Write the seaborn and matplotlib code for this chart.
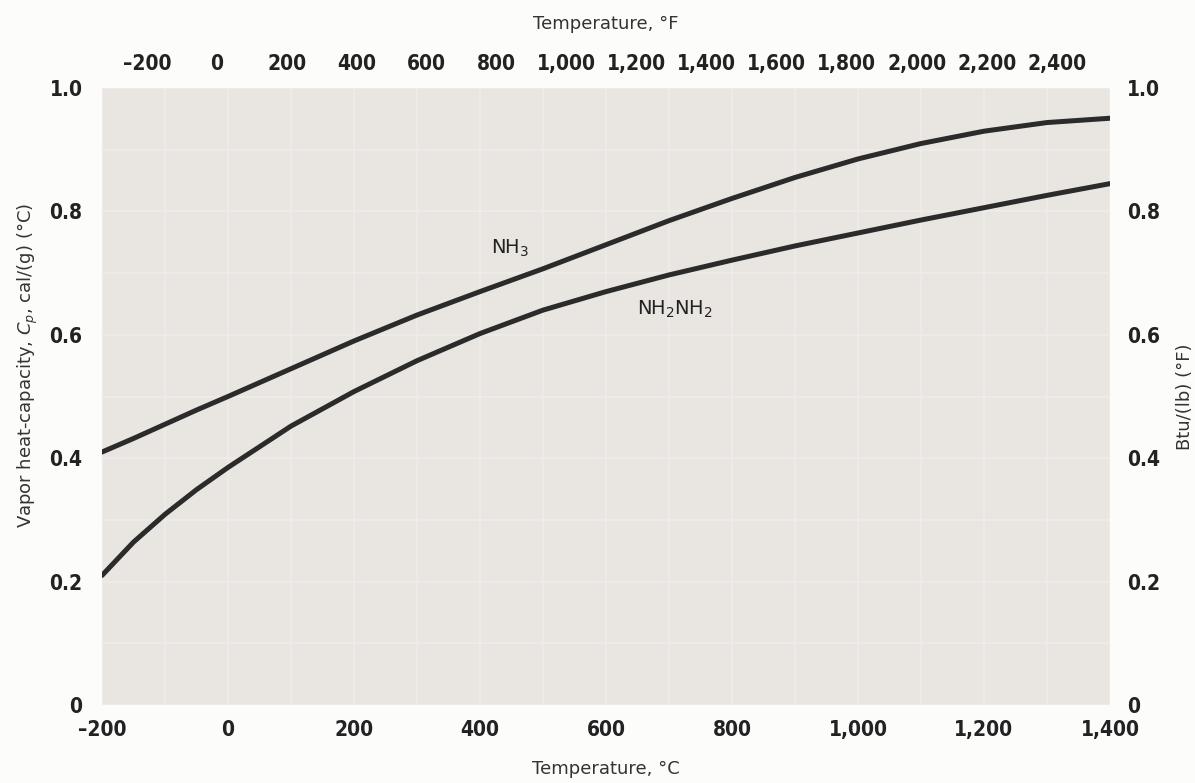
import numpy as np
import pandas as pd
import seaborn as sns
import matplotlib
matplotlib.use("Agg")
import matplotlib.pyplot as plt
from matplotlib.ticker import FuncFormatter

# dados
temp_c = [-200, -150, -100, -50, 0, 100, 200, 300, 400, 500, 600, 700, 800, 900, 1000, 1100, 1200, 1300, 1400]
cp_nh3 = [0.41, 0.432, 0.455, 0.478, 0.50, 0.545, 0.59, 0.632, 0.67, 0.707, 0.746, 0.785, 0.821, 0.855, 0.885, 0.91, 0.93, 0.944, 0.951]
cp_n2h4 = [0.21, 0.264, 0.309, 0.349, 0.385, 0.452, 0.508, 0.558, 0.602, 0.64, 0.67, 0.697, 0.721, 0.744, 0.765, 0.786, 0.806, 0.826, 0.845]

ticks_c = [-200, 0, 200, 400, 600, 800, 1000, 1200, 1400]
ticks_f = list(range(-200, 2401, 200))
ticks_y = [0, 0.2, 0.4, 0.6, 0.8, 1.0]

df = pd.DataFrame({'temp': temp_c * 2,
                   'cp': cp_nh3 + cp_n2h4,
                   'gas': ['NH3'] * len(temp_c) + ['NH2NH2'] * len(temp_c)})

sns.set_style('white', {'axes.facecolor': '#e9e6e2', 'figure.facecolor': '#fcfcfb'})
plt.rcParams['font.family'] = ['DejaVu Sans']

fig = plt.figure(figsize=(11.95, 7.83), dpi=100)
ax = fig.add_axes([102 / 1195, 1 - 705 / 783, (1110 - 102) / 1195, (705 - 88) / 783])

plot = sns.lineplot(data=df, x='temp', y='cp', hue='gas', palette=['#2b2b2b', '#2b2b2b'],
                    linewidth=3.6, legend=False, ax=ax)

ax.set_xlim(-200, 1400)
ax.set_ylim(0, 1.0)
for s in ax.spines.values():
    s.set_visible(False)

# grade clara do papel
ax.set_xticks(range(-200, 1401, 100), minor=True)
ax.set_yticks(np.arange(0, 1.01, 0.1), minor=True)
ax.grid(True, which='both', color='#efece9', linewidth=1.2)
ax.tick_params(which='minor', length=0)

fmt = FuncFormatter(lambda v, p: f'{v:,.0f}'.replace('-', '\u2013'))
yfmt = FuncFormatter(lambda v, p: '0' if v == 0 else f'{v:.1f}')


def estilo(labels):
    for t in labels:
        t.set_fontstretch('condensed')
        t.set_weight('bold')


ax.set_xticks(ticks_c)
ax.xaxis.set_major_formatter(fmt)
ax.set_yticks(ticks_y)
ax.yaxis.set_major_formatter(yfmt)
ax.tick_params(axis='x', length=0, pad=11, labelsize=15, labelcolor='#222222')
ax.tick_params(axis='y', length=0, pad=14, labelsize=15, labelcolor='#222222')
estilo(ax.get_xticklabels() + ax.get_yticklabels())

ax.set_xlabel('Temperature, °C', fontsize=13, color='#333333', labelpad=14)
ax.set_ylabel('Vapor heat-capacity, $C_p$, cal/(g) (°C)', fontsize=13, color='#333333')
ax.yaxis.set_label_coords(-0.062, 0.55)

# eixo superior em °F
top = ax.secondary_xaxis('top', functions=(lambda c: c * 9 / 5 + 32, lambda f: (f - 32) * 5 / 9))
top.set_xticks(ticks_f)
top.xaxis.set_major_formatter(fmt)
top.tick_params(length=0, pad=10, labelsize=15, labelcolor='#222222')
top.set_xlabel('Temperature, °F', fontsize=13, color='#333333', labelpad=18)
estilo(top.get_xticklabels())
top.spines['top'].set_visible(False)

# eixo direito em Btu/(lb)(°F)
right = ax.secondary_yaxis('right')
right.set_yticks(ticks_y)
right.yaxis.set_major_formatter(yfmt)
right.tick_params(length=0, pad=12, labelsize=15, labelcolor='#222222')
right.set_ylabel('Btu/(lb) (°F)', fontsize=13, color='#333333', labelpad=12)
estilo(right.get_yticklabels())
right.spines['right'].set_visible(False)

ax.text(448, 0.74, 'NH$_3$', fontsize=14, color='#222222', ha='center', va='center')
ax.text(710, 0.642, 'NH$_2$NH$_2$', fontsize=14, color='#222222', ha='center', va='center')

plot.figure.savefig('out.png', dpi=100, facecolor=fig.get_facecolor())
